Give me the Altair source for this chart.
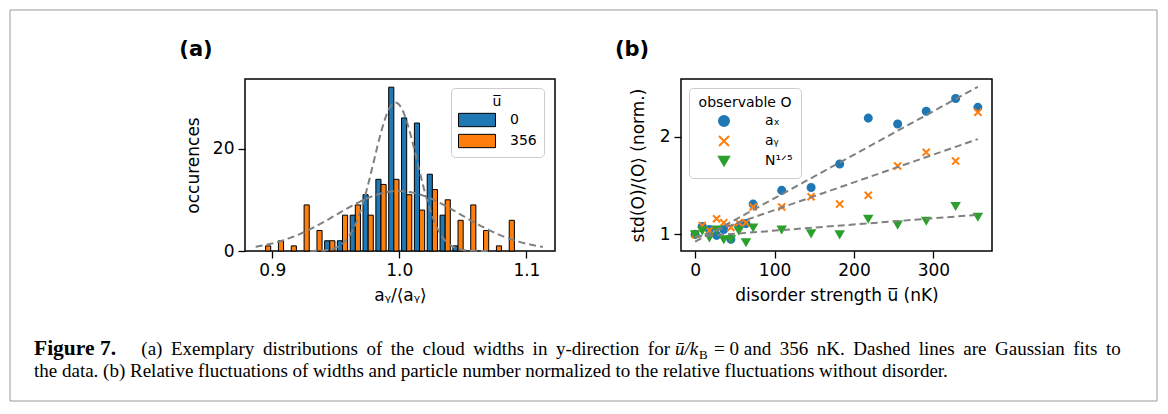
import altair as alt
import numpy as np
import pandas as pd

BLUE = '#1f77b4'
ORANGE = '#ff7f0e'
GREEN = '#2ca02c'
GRAY = '#808080'
FONT = 'DejaVu Sans'
SERIF = 'Liberation Serif'

# ---------------- panel (a): histogram of a_y/<a_y> ----------------
bin_centers = [0.8948, 0.9049, 0.9150, 0.9251, 0.9352, 0.9453, 0.9553, 0.9654,
               0.9755, 0.9856, 0.9957, 1.0058, 1.0159, 1.0260, 1.0361, 1.0462,
               1.0562, 1.0663, 1.0764, 1.0865]
bin_width = 0.0101
counts_u0 = [0, 0, 0, 0, 0, 2, 2, 7, 11, 14, 32, 26, 25, 15, 7, 1, 0, 0, 0, 0]
counts_u356 = [1, 2, 1, 9, 4, 2, 7, 9, 7, 13, 14, 11, 8, 12, 10, 6, 9, 4, 1, 6]
u_labels = ['0', '356']
# Gaussian fit parameters: amplitude, mean, sigma, plotted range
fit_u0 = [29.0, 0.997, 0.017, 0.930, 1.070]
fit_u356 = [11.7, 0.9995, 0.049, 0.887, 1.113]

# ---------------- panel (b): relative fluctuations ----------------
disorder = [0, 9, 18, 27, 36, 45, 55, 64, 73, 109, 146, 182, 218, 255, 291, 328, 356]
std_ax = [1.00, 1.08, 1.05, 0.99, 1.05, 0.95, 1.08, 1.11, 1.31, 1.45, 1.48, 1.72, 2.19, 2.13, 2.26, 2.39, 2.30]
std_ay = [1.00, 1.09, 1.04, 1.16, 1.12, 1.07, 1.12, 1.12, 1.28, 1.28, 1.385, 1.31, 1.40, 1.70, 1.84, 1.75, 2.25]
std_N = [1.00, 1.04, 0.97, 1.05, 0.95, 0.95, 1.04, 0.92, 1.07, 1.05, 1.01, 1.00, 1.16, 1.10, 1.14, 1.29, 1.18]
series_names = ['aₓ', 'aᵧ', 'N¹ᐟ⁵']
fit_x = [0, 356]
fit_ax = [0.925, 2.51]
fit_ay = [0.965, 1.975]
fit_N = [0.975, 1.20]

# ---------------- build tables ----------------
rows = []
for c, n0, n1 in zip(bin_centers, counts_u0, counts_u356):
    if n0 > 0:
        rows.append({'u': u_labels[0], 'x0': c - 0.4 * bin_width, 'x1': c, 'count': n0, 'base': 0})
    if n1 > 0:
        rows.append({'u': u_labels[1], 'x0': c, 'x1': c + 0.4 * bin_width, 'count': n1, 'base': 0})
hist_df = pd.DataFrame(rows)

crow = []
for name, (amp, mu, sig, lo, hi) in zip(u_labels, [fit_u0, fit_u356]):
    for xv in np.linspace(lo, hi, 160):
        crow.append({'fit': name, 'x': float(xv),
                     'y': float(amp * np.exp(-(xv - mu) ** 2 / (2 * sig ** 2)))})
curve_df = pd.DataFrame(crow)

prow = []
for name, vals in zip(series_names, [std_ax, std_ay, std_N]):
    for uu, vv in zip(disorder, vals):
        prow.append({'series': name, 'u': uu, 'v': vv})
pts_df = pd.DataFrame(prow)

frow = []
for name, vals in zip(series_names, [fit_ax, fit_ay, fit_N]):
    for uu, vv in zip(fit_x, vals):
        frow.append({'fit': name, 'u': uu, 'v': vv})
fit_df = pd.DataFrame(frow)

one = pd.DataFrame({'k': [0]})

# ---------------- panel (a) ----------------
xa = alt.Scale(domain=[0.8786, 1.1225], nice=False, zero=False)
ya = alt.Scale(domain=[0, 33.6], nice=False)
xa_axis = alt.Axis(values=[0.9, 1.0, 1.1], format='.1f', titlePadding=9)
ya_axis = alt.Axis(values=[0, 20], titlePadding=10)
xa_title = 'aᵧ/⟨aᵧ⟩'

leg_a = alt.Legend(
    title='u̅', orient='none', legendX=206, legendY=9,
    fillColor='white', strokeColor='#cccccc', cornerRadius=4, padding=7,
    titleAnchor='middle', titleFont=FONT, titleFontSize=14, titleFontWeight='normal',
    labelFont=FONT, labelFontSize=14, labelColor='black', titleColor='black',
    symbolType='M-2.5,-0.9H2.5V0.9H-2.5Z', symbolSize=219, symbolStrokeColor='black',
    symbolStrokeWidth=1, symbolOpacity=1, symbolOffset=11, labelOffset=25,
    rowPadding=3, titlePadding=3)

bars = alt.Chart(hist_df).mark_bar(stroke='black', strokeWidth=1, opacity=1).encode(
    x=alt.X('x0:Q', scale=xa, axis=xa_axis, title=xa_title),
    x2='x1:Q',
    y=alt.Y('count:Q', scale=ya, axis=ya_axis, title='occurences'),
    y2='base:Q',
    color=alt.Color('u:N', scale=alt.Scale(domain=u_labels, range=[BLUE, ORANGE]), legend=leg_a),
)
curves = alt.Chart(curve_df).mark_line(color=GRAY, strokeWidth=2, strokeDash=[7, 4]).encode(
    x=alt.X('x:Q', scale=xa, axis=xa_axis, title=xa_title),
    y=alt.Y('y:Q', scale=ya, axis=ya_axis, title='occurences'),
    detail='fit:N',
)

def txt(t, x, y, size, weight='normal', font=FONT, align='center', baseline='middle', style='normal'):
    return alt.Chart(one).mark_text(font=font, fontSize=size, fontWeight=weight, align=align,
                                    baseline=baseline, fontStyle=style, color='black').encode(
        x=alt.value(x), y=alt.value(y), text=alt.value(t))

def justify(s, keep=0):
    # widen inter-word spaces with a thin space (the printed caption line is justified)
    parts = s.split(' ')
    out = parts[0]
    for i, p in enumerate(parts[1:]):
        out += (' ' if i < keep else ' \u2009') + p
    return out

label_a = txt('(a)', -49, -29, 21, weight='bold')
border = alt.Chart(one).mark_rect(fillOpacity=0, stroke='#999999', strokeWidth=1).encode(
    x=alt.value(-235), x2=alt.value(912), y=alt.value(-69), y2=alt.value(322))

CAP = 19.0
Y1, Y2 = 275.5, 297.5
cap1 = txt('Figure 7.', -211, Y1, 21.5, weight='bold', font=SERIF, align='left', baseline='alphabetic')
cap2 = txt(justify('(a) Exemplary distributions of the cloud widths in y-direction for'), 425, Y1, CAP,
           font=SERIF, align='right', baseline='alphabetic')
cap3 = txt('ū/k', 430, Y1, CAP, font=SERIF, align='left', baseline='alphabetic', style='italic')
cap4 = txt('B', 454, Y1 + 4, 13, font=SERIF, align='left', baseline='alphabetic')
cap5 = txt(justify('= 0 and 356 nK. Dashed lines are Gaussian fits to', keep=2), 469, Y1, CAP,
           font=SERIF, align='left', baseline='alphabetic')
cap6 = txt('the data. (b) Relative fluctuations of widths and particle number normalized to the relative fluctuations without disorder.',
           -211, Y2, CAP, font=SERIF, align='left', baseline='alphabetic')

panel_a = alt.layer(bars, curves, label_a, border, cap1, cap2, cap3, cap4, cap5, cap6).properties(
    width=310, height=172)

# ---------------- panel (b) ----------------
xb = alt.Scale(domain=[-17.8, 373.8], nice=False, zero=False)
yb = alt.Scale(domain=[0.83, 2.59], nice=False, zero=False)
xb_axis = alt.Axis(values=[0, 100, 200, 300], titlePadding=9)
yb_axis = alt.Axis(values=[1, 2], titlePadding=12)
xb_title = 'disorder strength u̅ (nK)'
yb_title = 'std(O)/⟨O⟩ (norm.)'
XPATH = 'M-1,-1L1,1M-1,1L1,-1'

leg_b = alt.Legend(
    title='observable O', orient='none', legendX=8, legendY=9,
    fillColor='white', strokeColor='#cccccc', cornerRadius=4, padding=8,
    titleAnchor='middle', titleFont=FONT, titleFontSize=14, titleFontWeight='normal',
    labelFont=FONT, labelFontSize=14, labelColor='black', titleColor='black',
    symbolOffset=20, labelOffset=34, rowPadding=2, titlePadding=4, symbolOpacity=1,
    symbolStrokeWidth=2)
colscale = alt.Scale(domain=series_names, range=[BLUE, ORANGE, GREEN])

pts = alt.Chart(pts_df).mark_point(filled=True, size=50, strokeWidth=2, opacity=1).encode(
    x=alt.X('u:Q', scale=xb, axis=xb_axis, title=xb_title),
    y=alt.Y('v:Q', scale=yb, axis=yb_axis, title=yb_title),
    fill=alt.Fill('series:N', scale=colscale, legend=leg_b),
    stroke=alt.Stroke('series:N', scale=colscale, legend=leg_b),
    shape=alt.Shape('series:N', scale=alt.Scale(domain=series_names, range=['circle', XPATH, 'triangle-down']),
                    legend=leg_b),
)
fits = alt.Chart(fit_df).mark_line(color=GRAY, strokeWidth=2, strokeDash=[7, 4]).encode(
    x=alt.X('u:Q', scale=xb, axis=xb_axis, title=xb_title),
    y=alt.Y('v:Q', scale=yb, axis=yb_axis, title=yb_title),
    detail='fit:N',
)
label_b = txt('(b)', -49, -29, 21, weight='bold')

panel_b = alt.layer(pts, fits, label_b).properties(width=311, height=172)

chart = alt.hconcat(panel_a, panel_b, spacing=126, bounds='flush').resolve_scale(
    color='independent', fill='independent', stroke='independent', shape='independent',
    x='independent', y='independent'
).properties(padding=0, background='white').configure_view(
    stroke='black', strokeWidth=1.5
).configure_axis(
    labelFont=FONT, labelFontSize=17, titleFont=FONT, titleFontSize=17, titleFontWeight='normal',
    labelColor='black', titleColor='black', tickColor='black', tickSize=7, tickWidth=1.3,
    domain=False, grid=False, labelPadding=4
)

chart.save('out.html', embed_options={'renderer': 'svg', 'actions': False})
